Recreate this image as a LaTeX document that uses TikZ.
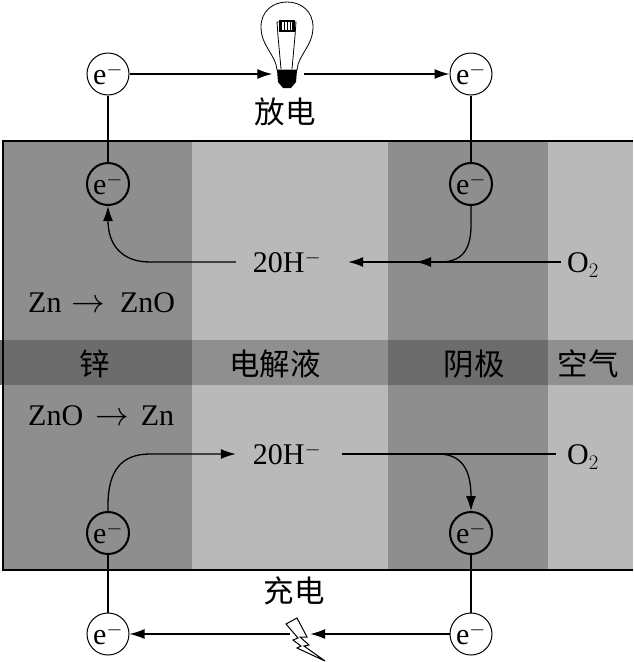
\documentclass[tikz,border=0pt]{standalone}
\usepackage{fontspec}
\setmainfont{Liberation Serif}
\newfontfamily\cjk{Noto Sans CJK SC}
\usepackage{xcolor}
\usetikzlibrary{arrows.meta,positioning,calc}
\definecolor{ZincDark}{HTML}{8E8E8E}
\definecolor{CellLight}{HTML}{B9B9B9}
\definecolor{BandDark}{HTML}{6C6C6C}
\definecolor{BandLight}{HTML}{8F8F8F}
\newcommand{\rxarrow}{\scalebox{1.35}{$\rightarrow$}}

\begin{document}
\begin{tikzpicture}[
  x=1pt,y=-1pt,
  every node/.style={font=\fontsize{30}{32}\selectfont},
  elec/.style={draw,circle,line width=1pt,minimum size=42pt,inner sep=0pt},
  elecin/.style={elec,line width=2pt},
  txt/.style={inner sep=0pt},
  zh/.style={inner sep=0pt,font=\fontsize{30.5}{32}\selectfont\cjk},
  wire/.style={line width=1.3pt},
  arrow/.style={wire,-{Latex[length=15pt,width=10pt]}}
]
  \useasboundingbox (0,0) rectangle (633,662);

  % cell columns and label band
  \foreach \xa/\xb/\col in {3/192/ZincDark,192/388/CellLight,388/548/ZincDark,548/633/CellLight}
    \fill[\col] (\xa,141) rectangle (\xb,570);
  \foreach \xa/\xb/\col in {0/192/BandDark,192/388/BandLight,388/548/BandDark,548/633/BandLight}
    \fill[\col] (\xa,340) rectangle (\xb,385);
  \draw[line width=2.5pt] (633,141) -- (3,141) -- (3,570) -- (633,570);

  % electrons
  \node[elec,fill=white] (eTopL) at (108,74) {e$^{-}$};
  \node[elec,fill=white] (eTopR) at (471,74) {e$^{-}$};
  \node[elecin] (eUpL) at (108,184) {e$^{-}$};
  \node[elecin] (eUpR) at (471,184) {e$^{-}$};
  \node[elecin] (eLowL) at (108,533) {e$^{-}$};
  \node[elecin] (eLowR) at (471,533) {e$^{-}$};
  \node[elec,fill=white] (eBotL) at (108,634) {e$^{-}$};
  \node[elec,fill=white] (eBotR) at (471,634) {e$^{-}$};

  % lamp
  \node[inner sep=0pt,minimum width=31pt,minimum height=20pt] (lamp) at (288,74) {};
  \draw[line width=.8pt,fill=white] (277,70) .. controls (276,55) and (261,46) .. (261,27)
    .. controls (261,11) and (273,2) .. (287,2)
    .. controls (301,2) and (313,11) .. (313,27)
    .. controls (313,46) and (298,55) .. (297,70) -- cycle;
  \draw[line width=.8pt] (281,69) -- (278,36) -- (277,22) -- (296,22) -- (295,36) -- (292,69);
  \fill (277,70) -- (297,70) -- (296,82) -- (291,88) -- (283,88) -- (278,82) -- cycle;
  \fill (279,20) rectangle (295,32);
  \fill[white] (282,22) rectangle (292,30);
  \foreach \xb in {284,287,290} \draw[line width=1pt] (\xb,22) -- (\xb,30);

  % bolt
  \node[inner sep=0pt,minimum width=20pt,minimum height=20pt] (bolt) at (300,634) {};
  \draw[line width=1pt,fill=white] (286,624) -- (297,618) -- (307,637) -- (300,637) -- (309,645)
    -- (304,646) -- (325,661) -- (297,648) -- (301,646) -- (293,640) -- (298,638) -- cycle;

  % text
  \node[zh] (discharge) at (285,112) {放电};
  \node[zh] (charge) at (294,591) {充电};
  \node[zh] (zinc) at (95,364) {锌};
  \node[zh] (electrolyte) at (275,364) {电解液};
  \node[zh] (cathode) at (474,364) {阴极};
  \node[zh] (air) at (588,364) {空气};
  \node[txt,anchor=west] (rxUp) at (28,303) {Zn\hspace{10pt}\rxarrow\hspace{15pt}ZnO};
  \node[txt,anchor=west] (rxLow) at (28,416) {ZnO\hspace{12pt}\rxarrow\hspace{12pt}Zn};
  \node[txt,minimum width=112pt] (ohUp) at (292,262) {20H$^{-}$\kern10pt};
  \node[txt,minimum width=106pt] (ohLow) at (289,454) {20H$^{-}$\kern4pt};
  \node[txt,anchor=west,inner xsep=6pt] (oxUp) at (561,265) {O$_2$};
  \node[txt,anchor=west,inner xsep=11pt] (oxLow) at (556,457) {O$_2$};

  % junctions on the horizontal lines
  \coordinate (bendUpL) at (150,262);
  \coordinate (bendUpR) at (416,262);
  \coordinate (bendLowL) at (150,454);
  \coordinate (bendLowR) at (438,454);

  % discharge
  \draw[arrow] (eTopL) -- (lamp);
  \draw[arrow] (lamp) -- (eTopR);
  \draw[wire] (eUpL) -- (eTopL);
  \draw[wire] (eTopR) -- (eUpR);
  \draw[arrow] (ohUp.west) -- (bendUpL) .. controls (122,262) and (108,245) .. (eUpL.south);
  \draw[wire] (eUpR.south) -- (471,225) .. controls (471,250) and (462,262) .. (440,262);
  \draw[arrow] (440,262) -- (bendUpR);
  \draw[arrow] (oxUp.west |- ohUp) -- (ohUp.east);

  % charge
  \draw[arrow] (eLowL.north) -- (108,505) .. controls (108,470) and (122,454) .. (bendLowL) -- (ohLow.west);
  \draw[wire] (oxLow.west |- ohLow) -- (ohLow.east);
  \draw[arrow] (bendLowR) .. controls (462,454) and (471,470) .. (eLowR.north);
  \draw[wire] (eLowL) -- (eBotL);
  \draw[wire] (eLowR) -- (eBotR);
  \draw[arrow] (eBotR) -- (bolt);
  \draw[arrow] (bolt) -- (eBotL);
\end{tikzpicture}
\end{document}
